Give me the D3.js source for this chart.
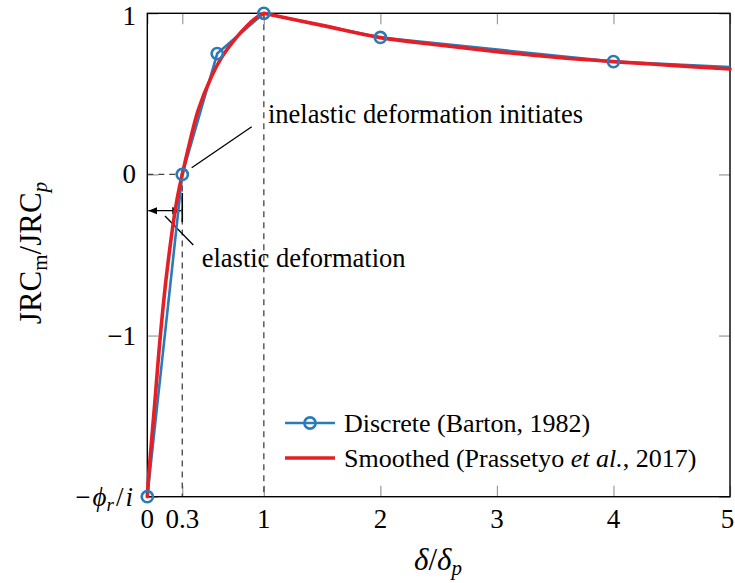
<!DOCTYPE html>
<html>
<head>
<meta charset="utf-8">
<script src="https://cdn.jsdelivr.net/npm/d3@7"></script>
<style>
  html, body { margin: 0; padding: 0; background: #fff; }
  svg { display: block; font-family: "Liberation Serif", "DejaVu Serif", serif; }
</style>
</head>
<body>
<svg id="chart" width="735" height="583"></svg>
<script>
// ---- data ----
const discreteX = [0, 0.3, 0.6, 1, 2, 4, 10];
const discreteY = [-2, 0, 0.75, 1, 0.85, 0.70, 0.5];
const smoothX = [0, 0.016, 0.064, 0.112, 0.169, 0.249, 0.3, 0.366, 0.437, 0.552, 0.637, 0.751, 0.852, 0.94, 1,
                 1.5, 2, 2.5, 3, 3.5, 4, 4.5, 5];
const smoothY = [-2, -1.83, -1.42, -1.0, -0.6, -0.18, 0, 0.205, 0.40, 0.61, 0.725, 0.838, 0.92, 0.975, 1,
                 0.925, 0.849, 0.803, 0.762, 0.727, 0.70, 0.677, 0.654];
const xTicks = [0, 0.3, 1, 2, 3, 4, 5];
const xTickLabels = ["0", "0.3", "1", "2", "3", "4", "5"];
const yTicks = [-2, -1, 0, 1];
const yTickLabels = ["−ϕr/i", "−1", "0", "1"];
const legendLabels = ["Discrete (Barton, 1982)", "Smoothed (Prassetyo et al., 2017)"];

const blue = "#2b7bba", red = "#e41f26";

const W = 735;
const svg = d3.select("#chart");
const L = 147.3, R = 730, T = 13.3, B = 496.7;
const x = d3.scaleLinear().domain([0, 5]).range([L, R]);
const y = d3.scaleLinear().domain([-2, 1]).range([B, T]);

const defs = svg.append("defs");
defs.append("clipPath").attr("id", "clip")
  .append("rect").attr("x", L).attr("y", T - 10).attr("width", R - L).attr("height", B - T + 20);
defs.append("marker").attr("id", "ah").attr("viewBox", "0 0 10 10").attr("refX", 10).attr("refY", 5)
  .attr("markerWidth", 9).attr("markerHeight", 9).attr("markerUnits", "userSpaceOnUse").attr("orient", "auto-start-reverse")
  .append("path").attr("d", "M0,1 L10,5 L0,9 Z").attr("fill", "#000");

// ticks (inward, mirrored)
const tickLen = 11, tickCol = "#999";
const tg = svg.append("g");
const axB = d3.axisBottom(x).tickValues(xTicks).tickSize(-tickLen).tickFormat("");
const axT = d3.axisTop(x).tickValues(xTicks).tickSize(-tickLen).tickFormat("");
const axLft = d3.axisLeft(y).tickValues(yTicks).tickSize(-tickLen).tickFormat("");
const axRt = d3.axisRight(y).tickValues(yTicks).tickSize(-tickLen).tickFormat("");
[[axB, `translate(0,${B})`], [axT, `translate(0,${T})`], [axLft, `translate(${L},0)`], [axRt, `translate(${R},0)`]]
  .forEach(([a, t]) => {
    const g = tg.append("g").attr("transform", t).call(a);
    g.select(".domain").remove();
    g.selectAll("line").attr("stroke", tickCol).attr("stroke-width", 1.2);
  });

// dashed guide lines
const dash = svg.append("g").attr("stroke", "#444").attr("stroke-width", 1.3).attr("stroke-dasharray", "6,5").attr("fill", "none");
dash.append("line").attr("x1", x(0.3)).attr("x2", x(0.3)).attr("y1", y(0)).attr("y2", y(-2));
dash.append("line").attr("x1", x(1)).attr("x2", x(1)).attr("y1", y(1)).attr("y2", y(-2));
dash.append("line").attr("x1", x(0)).attr("x2", x(0.3)).attr("y1", y(0)).attr("y2", y(0));

// frame
svg.append("rect").attr("x", L).attr("y", T).attr("width", R - L).attr("height", B - T)
  .attr("fill", "none").attr("stroke", "#000").attr("stroke-width", 1.4);

// annotations
const ann = svg.append("g").attr("stroke", "#000").attr("stroke-width", 1.3);
ann.append("line").attr("x1", 191.7).attr("y1", 167.7).attr("x2", 251.7).attr("y2", 126.7);
ann.append("line").attr("x1", 165).attr("y1", 216).attr("x2", 193.3).attr("y2", 245);
ann.append("line").attr("x1", x(0.3)).attr("x2", x(0.3)).attr("y1", 193).attr("y2", 222).attr("stroke-width", 1.6);
ann.append("line").attr("x1", x(0) + 1).attr("x2", x(0.3) - 1).attr("y1", 210.7).attr("y2", 210.7)
  .attr("marker-start", "url(#ah)").attr("marker-end", "url(#ah)");

svg.append("text").attr("x", 268).attr("y", 123).attr("font-size", 26.5).text("inelastic deformation initiates");
svg.append("text").attr("x", 201.7).attr("y", 267).attr("font-size", 26.5).text("elastic deformation");

// series
const lineGen = d3.line().x(d => x(d[0])).y(d => y(d[1]));
const disc = discreteX.map((v, i) => [v, discreteY[i]]);
const smooth = smoothX.map((v, i) => [v, smoothY[i]]);
const plot = svg.append("g");
plot.append("path").attr("clip-path", "url(#clip)").attr("d", lineGen(disc))
  .attr("fill", "none").attr("stroke", blue).attr("stroke-width", 2.6).attr("stroke-linejoin", "round");
const smoothGen = d3.line().x(d => x(d[0])).y(d => y(d[1])).curve(d3.curveCatmullRom.alpha(0.5));
const peak = smoothX.indexOf(1);
plot.append("path").attr("d", smoothGen(smooth.slice(0, peak + 1)) + smoothGen(smooth.slice(peak)))
  .attr("fill", "none").attr("stroke", red).attr("stroke-width", 3.6).attr("stroke-linejoin", "round").attr("stroke-linecap", "round");
plot.selectAll("circle").data(disc.filter(d => d[0] <= 5)).join("circle")
  .attr("cx", d => x(d[0])).attr("cy", d => y(d[1])).attr("r", 5.6)
  .attr("fill", "none").attr("stroke", blue).attr("stroke-width", 2.6);

// tick labels
const tl = svg.append("g").attr("font-size", 27);
tl.selectAll("text.xl").data(xTicks).join("text").attr("class", "xl")
  .attr("x", d => Math.min(x(d), W - 7.5)).attr("y", 528).attr("text-anchor", "middle").text((d, i) => xTickLabels[i]);
yTicks.forEach((v, i) => {
  const t = tl.append("text").attr("x", 136).attr("y", Math.max(y(v) + 9, 25)).attr("text-anchor", "end");
  const lab = yTickLabels[i];
  if (lab.includes("ϕ")) {
    t.attr("x", 133);
    t.append("tspan").text("−");
    t.append("tspan").attr("font-style", "italic").attr("dx", 2).text("ϕ");
    t.append("tspan").attr("font-style", "italic").attr("font-size", 19).attr("dy", 5).text("r");
    t.append("tspan").attr("dy", -5).attr("dx", 2).text("/");
    t.append("tspan").attr("font-style", "italic").attr("dx", 2).text("i");
  } else t.text(lab);
});

// axis titles
const xt = svg.append("text").attr("x", 438).attr("y", 570).attr("text-anchor", "middle").attr("font-size", 31);
xt.append("tspan").attr("font-style", "italic").text("δ");
xt.append("tspan").text("/");
xt.append("tspan").attr("font-style", "italic").text("δ");
xt.append("tspan").attr("font-style", "italic").attr("font-size", 21).attr("dy", 5).text("p");

const yt = svg.append("text").attr("transform", "translate(41,253) rotate(-90)").attr("text-anchor", "middle").attr("font-size", 31);
yt.append("tspan").text("JRC");
yt.append("tspan").attr("font-size", 21).attr("dy", 6).text("m");
yt.append("tspan").attr("dy", -6).text("/JRC");
yt.append("tspan").attr("font-size", 21).attr("font-style", "italic").attr("dy", 6).text("p");

// legend
const lg = svg.append("g").attr("font-size", 26);
lg.append("line").attr("x1", 285).attr("x2", 335).attr("y1", 423).attr("y2", 423).attr("stroke", blue).attr("stroke-width", 2.6);
lg.append("circle").attr("cx", 310).attr("cy", 423).attr("r", 5.6).attr("fill", "none").attr("stroke", blue).attr("stroke-width", 2.6);
lg.append("text").attr("x", 344).attr("y", 432).text(legendLabels[0]);
lg.append("line").attr("x1", 285).attr("x2", 335).attr("y1", 458).attr("y2", 458).attr("stroke", red).attr("stroke-width", 3.6);
const t2 = lg.append("text").attr("x", 344).attr("y", 467);
const parts = legendLabels[1].split("et al.");
t2.append("tspan").text(parts[0]);
t2.append("tspan").attr("font-style", "italic").text("et al.");
t2.append("tspan").text(parts[1]);
</script>
</body>
</html>
